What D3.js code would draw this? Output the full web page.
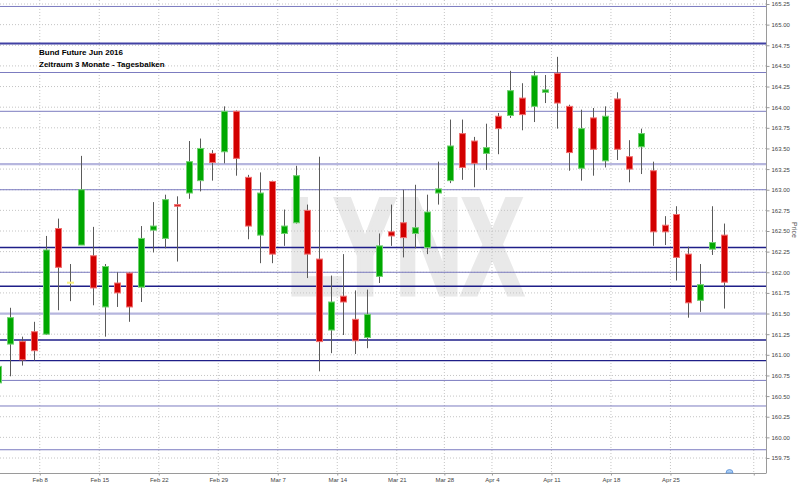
<!DOCTYPE html>
<html>
<head>
<meta charset="utf-8">
<script src="https://cdn.jsdelivr.net/npm/d3@7"></script>
<style>
  body { margin: 0; background: #fff; }
  svg { display: block; }
</style>
</head>
<body>
<svg id="chart" width="800" height="486"></svg>
<script>
// trading days (Eurex closed on Good Friday / Easter Monday)
const dates = [
  "2016-02-02","2016-02-03","2016-02-04","2016-02-05",
  "2016-02-08","2016-02-09","2016-02-10","2016-02-11","2016-02-12",
  "2016-02-15","2016-02-16","2016-02-17","2016-02-18","2016-02-19",
  "2016-02-22","2016-02-23","2016-02-24","2016-02-25","2016-02-26",
  "2016-02-29","2016-03-01","2016-03-02","2016-03-03","2016-03-04",
  "2016-03-07","2016-03-08","2016-03-09","2016-03-10","2016-03-11",
  "2016-03-14","2016-03-15","2016-03-16","2016-03-17","2016-03-18",
  "2016-03-21","2016-03-22","2016-03-23","2016-03-24",
  "2016-03-29","2016-03-30","2016-03-31","2016-04-01",
  "2016-04-04","2016-04-05","2016-04-06","2016-04-07","2016-04-08",
  "2016-04-11","2016-04-12","2016-04-13","2016-04-14","2016-04-15",
  "2016-04-18","2016-04-19","2016-04-20","2016-04-21","2016-04-22",
  "2016-04-25","2016-04-26","2016-04-27","2016-04-28","2016-04-29"
];

const opens = [160.66,161.13,161.16,161.28,161.25,162.53,161.88,162.33,162.20,161.58,
  161.87,161.99,161.82,162.51,162.41,162.82,162.96,163.11,163.44,163.46,
  163.95,163.15,162.45,163.10,162.47,162.60,162.75,162.16,161.30,161.71,
  161.43,161.21,161.95,162.49,162.60,162.47,162.30,162.96,163.11,163.68,
  163.59,163.44,163.89,163.90,164.11,164.01,164.18,164.41,164.01,163.26,
  163.87,163.35,164.10,163.40,163.52,163.23,162.57,162.70,162.22,161.66,
  162.28,162.45];

const highs = [160.88,161.57,161.22,161.40,162.44,162.65,162.10,163.41,162.55,162.10,
  162.00,162.00,162.56,162.85,162.94,162.92,163.59,163.62,163.48,164.01,
  163.96,163.18,163.21,163.11,162.76,163.29,162.82,163.40,161.96,162.22,
  161.78,161.79,162.47,162.82,163.00,163.06,162.94,163.34,163.85,163.85,
  163.64,163.80,163.93,164.44,164.29,164.44,164.39,164.61,164.03,163.97,
  163.99,164.01,164.18,163.60,163.74,163.34,162.68,162.80,162.31,162.10,
  162.80,162.59];

const lows = [160.62,160.74,160.87,160.93,161.24,161.54,161.65,162.33,161.60,161.22,
  161.58,161.40,161.64,162.24,162.29,162.13,162.89,162.98,163.11,163.32,
  163.17,162.40,162.11,162.11,162.32,162.59,161.93,160.80,161.02,161.24,
  161.01,161.08,161.87,162.32,162.18,162.29,162.22,162.82,163.08,163.12,
  163.03,163.24,163.43,163.87,163.72,163.82,164.05,163.74,163.23,163.11,
  163.17,163.27,163.36,163.09,163.19,162.32,162.33,161.90,161.45,161.52,
  162.21,161.56];

const closes = [160.86,161.45,160.94,161.05,162.27,162.06,161.88,163.00,161.81,162.07,
  161.75,161.58,162.41,162.56,162.88,162.80,163.34,163.50,163.33,163.95,
  163.38,162.56,162.96,162.22,162.56,163.17,162.22,161.16,161.64,161.64,
  161.17,161.49,162.32,162.44,162.42,162.54,162.73,163.01,163.53,163.27,
  163.32,163.51,163.74,164.20,163.91,164.38,164.21,164.05,163.45,163.74,
  163.49,163.89,163.49,163.25,163.68,162.49,162.49,162.18,161.63,161.85,
  162.36,161.88];

// week separators: index of first trading day of each week
const weekStart = [4, 9, 14, 19, 24, 29, 34, 38, 42, 47, 52, 57, 64];
const weekLabels = ["Feb 8","Feb 15","Feb 22","Feb 29","Mar 7","Mar 14","Mar 21",
  "Mar 28","Apr 4","Apr 11","Apr 18","Apr 25",""];

const priceTicks = [159.75,160.00,160.25,160.50,160.75,161.00,161.25,161.50,161.75,
  162.00,162.25,162.50,162.75,163.00,163.25,163.50,163.75,164.00,164.25,164.50,
  164.75,165.00,165.25];

// horizontal support / resistance lines
const levels = [165.22,164.77,164.42,163.95,163.31,163.00,162.30,162.00,161.83,
  161.50,161.18,160.93,160.69,160.38,159.85];
const levelKind = ["mid","dark","mid","mid","light","mid","navy","mid","navy",
  "light","navy","navy","mid","mid","mid"];

const levelStyle = {
  navy:  { stroke: "#1e1e88", width: 1.4 },
  dark:  { stroke: "#4040a4", width: 2 },
  mid:   { stroke: "#7c7cc0", width: 1 },
  light: { stroke: "#b6b6de", width: 2.2 }
};

const svg = d3.select("#chart");
const plotRight = 766, plotBottom = 473;

const x = d3.scaleLinear().domain([0, dates.length - 1]).range([-1.9, 724]);
const y = d3.scaleLinear().domain([159.75, 165.25]).range([458, 4]);

// watermark
svg.append("text")
  .attr("x", 287)
  .attr("y", 294)
  .attr("textLength", 236)
  .attr("lengthAdjust", "spacingAndGlyphs")
  .style("font-family", "Liberation Sans, Arial, sans-serif")
  .style("font-weight", "bold")
  .style("font-size", "137px")
  .style("fill", "#e9e9e9")
  .style("stroke", "#e9e9e9")
  .style("stroke-width", 5)
  .style("stroke-linejoin", "miter")
  .text("LYNX");

// dotted grid
const grid = svg.append("g");
grid.selectAll(".hg")
  .data(priceTicks)
  .join("line")
  .attr("x1", 0).attr("x2", plotRight)
  .attr("y1", d => y(d)).attr("y2", d => y(d))
  .attr("stroke", "#c4c4c4")
  .attr("stroke-dasharray", "1,2");
grid.selectAll(".vg")
  .data(weekStart)
  .join("line")
  .attr("x1", d => x(d - 0.5)).attr("x2", d => x(d - 0.5))
  .attr("y1", 0).attr("y2", plotBottom)
  .attr("stroke", "#c4c4c4")
  .attr("stroke-dasharray", "1,2");

// level lines
svg.append("g").selectAll("line")
  .data(levels)
  .join("line")
  .attr("x1", 0).attr("x2", plotRight)
  .attr("y1", d => y(d)).attr("y2", d => y(d))
  .attr("stroke", (d, i) => levelStyle[levelKind[i]].stroke)
  .attr("stroke-width", (d, i) => levelStyle[levelKind[i]].width);

// candles
const candles = dates.map((d, i) => ({
  i, date: d, o: opens[i], h: highs[i], l: lows[i], c: closes[i]
}));

function fillOf(d) {
  if (d.c > d.o) return "#00a800";
  if (d.c < d.o) return "#d20000";
  return "#f0e030";
}
function edgeOf(d) {
  if (d.c > d.o) return "#70d070";
  if (d.c < d.o) return "#f07070";
  return "#f8f080";
}

const cg = svg.append("g");
cg.selectAll(".wick")
  .data(candles)
  .join("line")
  .attr("x1", d => Math.round(x(d.i)) + 0.5)
  .attr("x2", d => Math.round(x(d.i)) + 0.5)
  .attr("y1", d => y(d.h))
  .attr("y2", d => y(d.l))
  .attr("stroke", "#5a5a5a")
  .attr("stroke-width", 1);

cg.selectAll(".body")
  .data(candles)
  .join("rect")
  .attr("x", d => Math.round(x(d.i)) - 2.5)
  .attr("width", 6)
  .attr("y", d => y(Math.max(d.o, d.c)))
  .attr("height", d => Math.max(1, Math.abs(y(d.o) - y(d.c))))
  .attr("fill", fillOf)
  .attr("stroke", edgeOf)
  .attr("stroke-width", 1);

// axis frame
svg.append("line")
  .attr("x1", plotRight + 0.5).attr("x2", plotRight + 0.5)
  .attr("y1", 0).attr("y2", plotBottom)
  .attr("stroke", "#9a9a9a");
svg.append("line")
  .attr("x1", 0).attr("x2", plotRight + 0.5)
  .attr("y1", plotBottom + 0.5).attr("y2", plotBottom + 0.5)
  .attr("stroke", "#9a9a9a");

// right price axis
const yAxis = svg.append("g")
  .attr("transform", `translate(${plotRight + 0.5},0)`)
  .call(d3.axisRight(y).tickValues(priceTicks).tickSize(3).tickPadding(2)
    .tickFormat(d3.format(".2f")));
yAxis.select(".domain").remove();
yAxis.selectAll(".tick line").attr("stroke", "#9a9a9a");
yAxis.selectAll("text")
  .style("font-family", "Liberation Sans, Arial, sans-serif")
  .style("font-size", "6px")
  .attr("fill", "#444");

// bottom date axis
const xAxis = svg.append("g")
  .attr("transform", `translate(0,${plotBottom + 0.5})`)
  .call(d3.axisBottom(x).tickValues(weekStart.map(d => d - 0.5)).tickSize(2).tickPadding(2)
    .tickFormat((d, i) => weekLabels[i]));
xAxis.select(".domain").remove();
xAxis.selectAll(".tick line").attr("stroke", "#9a9a9a");
xAxis.selectAll("text")
  .style("font-family", "Liberation Sans, Arial, sans-serif")
  .style("font-size", "6px")
  .attr("fill", "#444");

// axis title
svg.append("text")
  .attr("transform", "translate(792,230) rotate(90)")
  .attr("text-anchor", "middle")
  .style("font-family", "Liberation Sans, Arial, sans-serif")
  .style("font-size", "7px")
  .style("fill", "#555")
  .text("Price");

// chart title
const title = svg.append("g")
  .style("font-family", "Liberation Sans, Arial, sans-serif")
  .style("font-weight", "bold")
  .style("font-size", "8px")
  .style("fill", "#000");
title.append("text").attr("x", 39).attr("y", 55).text("Bund Future Jun 2016");
title.append("text").attr("x", 39).attr("y", 67).text("Zeitraum 3 Monate - Tagesbalken");

// current-bar marker
svg.append("path")
  .attr("transform", `translate(${x(dates.length - 1) + 5.5},${plotBottom})`)
  .attr("d", "M-3.5,0 A3.5,3.5 0 0 1 3.5,0 Z")
  .attr("fill", "#a8cdf5")
  .attr("stroke", "#5b8fd6")
  .attr("stroke-width", 0.8);
</script>
</body>
</html>
